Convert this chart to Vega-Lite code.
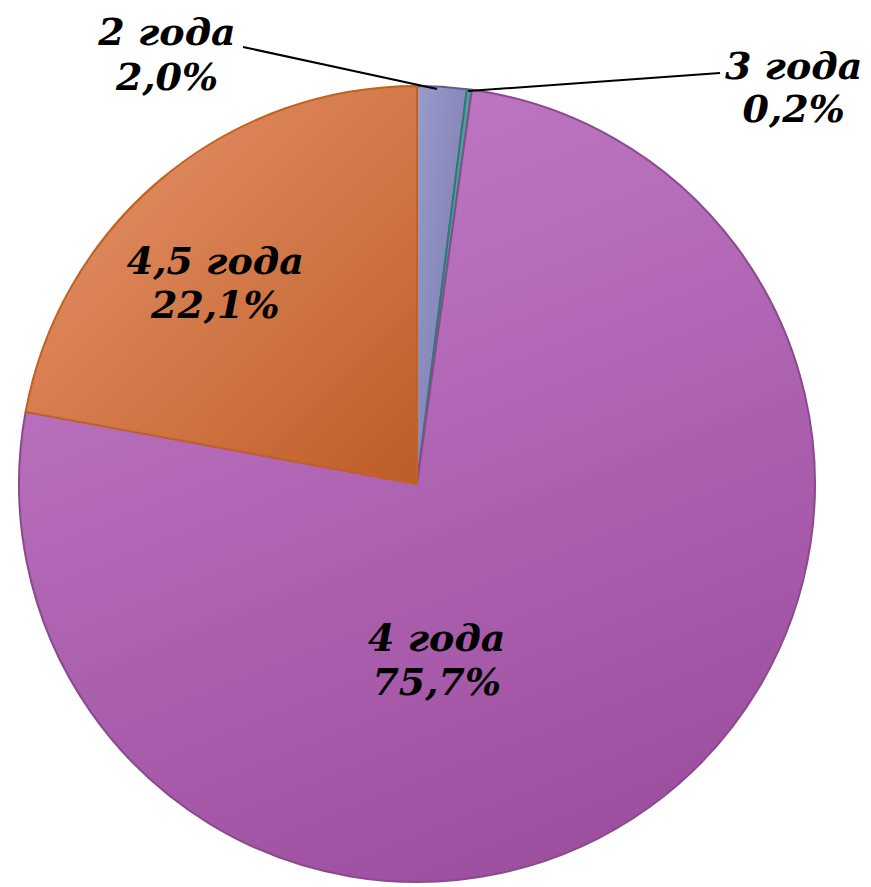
{
  "$schema": "https://vega.github.io/schema/vega-lite/v6.json",
  "width": 834,
  "height": 800,
  "autosize": {"type": "none"},
  "padding": {"left": 0, "top": 84, "right": 37, "bottom": 3},
  "background": "white",
  "config": {"view": {"stroke": null}},
  "data": {"values": [
    {"cat": "2 года", "pct": 2.0, "label": "2 года\n2,0%"},
    {"cat": "3 года", "pct": 0.2, "label": "3 года\n0,2%"},
    {"cat": "4 года", "pct": 75.7, "label": "4 года\n75,7%"},
    {"cat": "4,5 года", "pct": 22.1, "label": "4,5 года\n22,1%"}
  ]},
  "transform": [
    {"stack": "pct", "groupby": [], "sort": [{"field": "cat", "order": "ascending"}], "as": ["s0", "s1"]},
    {"calculate": "(datum.s0 + datum.s1) / 2", "as": "mid"}
  ],
  "layer": [
    {
      "mark": {"type": "arc", "outerRadius": 398, "strokeWidth": 2, "strokeJoin": "round"},
      "encoding": {
        "theta": {"field": "s0", "type": "quantitative", "scale": {"domain": [0, 100], "range": [0, 6.283185307179586], "zero": false, "nice": false}},
        "theta2": {"field": "s1"},
        "fill": {
          "condition": [
            {"test": "datum.cat === '2 года'", "value": {"gradient": "linear", "x1": 0, "y1": 0, "x2": 1, "y2": 1, "stops": [{"offset": 0, "color": "#9a9acb"}, {"offset": 1, "color": "#7676ab"}]}},
            {"test": "datum.cat === '3 года'", "value": {"gradient": "linear", "x1": 0, "y1": 0, "x2": 1, "y2": 1, "stops": [{"offset": 0, "color": "#58b3ae"}, {"offset": 1, "color": "#3d8d8a"}]}},
            {"test": "datum.cat === '4 года'", "value": {"gradient": "linear", "x1": 0.3, "y1": 0, "x2": 0.7, "y2": 1, "stops": [{"offset": 0, "color": "#c079c5"}, {"offset": 1, "color": "#9c4e9e"}]}}
          ],
          "value": {"gradient": "linear", "x1": 0, "y1": 0, "x2": 1, "y2": 1, "stops": [{"offset": 0, "color": "#e9966d"}, {"offset": 1, "color": "#bd5d27"}]}
        },
        "stroke": {
          "condition": [
            {"test": "datum.cat === '2 года'", "value": "#5c5c94"},
            {"test": "datum.cat === '3 года'", "value": "#2f7a77"},
            {"test": "datum.cat === '4 года'", "value": "#8a4a8c"}
          ],
          "value": "#c4611f"
        }
      }
    },
    {
      "transform": [{"filter": "datum.cat === '4,5 года'"}],
      "mark": {"type": "text", "radius": 284, "dx": -20, "dy": -3, "lineBreak": "\n", "font": "DejaVu Serif", "fontStyle": "italic", "fontWeight": "bold", "fontSize": 38, "lineHeight": 44, "align": "center", "baseline": "middle", "color": "black"},
      "encoding": {
        "theta": {"field": "mid", "type": "quantitative"},
        "text": {"field": "label", "type": "nominal"}
      }
    },
    {
      "transform": [{"filter": "datum.cat === '4 года'"}],
      "mark": {"type": "text", "radius": 179, "dx": -85, "dy": 11, "lineBreak": "\n", "font": "DejaVu Serif", "fontStyle": "italic", "fontWeight": "bold", "fontSize": 38, "lineHeight": 44, "align": "center", "baseline": "middle", "color": "black"},
      "encoding": {
        "theta": {"field": "mid", "type": "quantitative"},
        "text": {"field": "label", "type": "nominal"}
      }
    },
    {
      "transform": [{"filter": "datum.cat === '2 года'"}],
      "mark": {"type": "text", "radius": 430, "dx": -277, "dy": -21, "lineBreak": "\n", "font": "DejaVu Serif", "fontStyle": "italic", "fontWeight": "bold", "fontSize": 38, "lineHeight": 45, "align": "center", "baseline": "middle", "color": "black"},
      "encoding": {
        "theta": {"field": "mid", "type": "quantitative"},
        "text": {"field": "label", "type": "nominal"}
      }
    },
    {
      "transform": [{"filter": "datum.cat === '3 года'"}],
      "mark": {"type": "text", "radius": 400, "dx": 324, "dy": -19, "lineBreak": "\n", "font": "DejaVu Serif", "fontStyle": "italic", "fontWeight": "bold", "fontSize": 38, "lineHeight": 43, "align": "center", "baseline": "middle", "color": "black"},
      "encoding": {
        "theta": {"field": "mid", "type": "quantitative"},
        "text": {"field": "label", "type": "nominal"}
      }
    },
    {
      "data": {"values": [
        {"cat": "2 года", "x": -0.435, "y": 1.0925, "x2": 0.05, "y2": 0.9875},
        {"cat": "3 года", "x": 0.1275, "y": 0.9825, "x2": 0.7575, "y2": 1.0275}
      ]},
      "transform": [],
      "mark": {"type": "rule", "color": "black", "strokeWidth": 2},
      "encoding": {
        "x": {"field": "x", "type": "quantitative", "scale": {"domain": [-1.0425, 1.0425], "zero": false, "nice": false}, "axis": null},
        "y": {"field": "y", "type": "quantitative", "scale": {"domain": [-1, 1], "zero": false, "nice": false}, "axis": null},
        "x2": {"field": "x2"},
        "y2": {"field": "y2"}
      }
    }
  ]
}
